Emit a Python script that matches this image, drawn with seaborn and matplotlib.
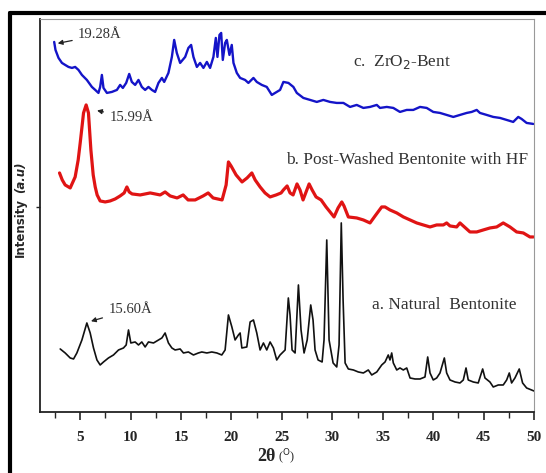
import matplotlib
matplotlib.use("Agg")
import matplotlib.pyplot as plt
import seaborn as sns
from matplotlib.lines import Line2D

# 2-theta (deg) and intensity (a.u.)
zro2_tt = [2.42, 2.55, 2.85, 3.19, 3.51, 3.84, 4.18, 4.5, 4.83, 5.17, 5.66, 6.16, 6.49, 6.81,
           6.98, 7.15, 7.31, 7.65, 8.14, 8.64, 8.96, 9.23, 9.56, 9.86, 10.12, 10.45, 10.78,
           11.11, 11.44, 11.77, 12.11, 12.43, 12.76, 13.1, 13.33, 13.75, 14.09, 14.32, 14.58,
           14.91, 15.41, 15.73, 16.0, 16.23, 16.57, 16.89, 17.22, 17.56, 17.88, 18.21, 18.45,
           18.61, 18.81, 18.98, 19.14, 19.37, 19.54, 19.8, 20.03, 20.2, 20.53, 20.86, 21.35,
           21.68, 22.18, 22.51, 23.01, 23.5, 24.0, 24.49, 24.82, 25.15, 25.65, 26.14,
           26.48, 27.13, 27.8, 28.46, 29.11, 29.78, 30.44, 31.1, 31.76, 32.42, 33.08, 33.74,
           34.41, 34.73, 35.4, 36.05, 36.71, 37.38, 38.03, 38.7, 39.36, 40.01, 40.68, 41.34,
           42.0, 42.66, 43.33, 43.82, 44.32, 44.64, 45.31, 45.96, 46.63, 47.29, 47.94, 48.44,
           48.77, 49.27, 49.93]
zro2_int = [370, 362, 354, 349, 347, 345, 344, 345, 342, 337, 332, 325, 322, 319,
            325, 337, 324, 319, 320, 322, 327, 324, 329, 338, 330, 327, 332,
            325, 322, 325, 322, 320, 329, 334, 330, 339, 355, 372, 359,
            349, 355, 364, 367, 355, 345, 349, 344, 350, 344, 355, 374,
            355, 377, 379, 352, 369, 372, 357, 367, 349, 339, 334, 332,
            329, 334, 330, 327, 325, 317, 320, 322, 330, 329, 325,
            319, 314, 312, 310, 312, 310, 309, 309, 305, 307, 304, 305,
            307, 304, 305, 304, 300, 302, 302, 305, 304, 300, 299, 297,
            295, 297, 299, 300, 302, 299, 297, 295, 294, 292, 290, 295,
            293, 289, 288]

hf_tt = [2.95, 3.22, 3.51, 4.01, 4.5, 4.8, 5.0, 5.2, 5.33, 5.59, 5.82, 6.06, 6.29, 6.49, 6.68,
         6.98, 7.48, 7.97, 8.47, 8.96, 9.36, 9.63, 9.86, 10.15, 10.95, 11.94, 12.93, 13.42,
         13.92, 14.61, 15.21, 15.7, 16.4, 17.19, 17.69, 18.18, 19.07, 19.47, 19.7, 19.96,
         20.46, 21.05, 21.55, 22.02, 22.35, 22.84, 23.33, 23.83, 24.43, 24.92, 25.15, 25.52,
         25.81, 26.11, 26.5, 26.8, 27.1, 27.4, 27.7, 28.0, 28.39, 28.89, 29.38, 29.78, 30.17,
         30.57, 30.94, 31.16, 31.59, 32.42, 33.08, 33.74, 34.24, 34.9, 35.23, 35.72, 36.39,
         37.05, 37.71, 38.37, 39.02, 39.69, 40.35, 41.01, 41.34, 41.67, 42.33, 42.66, 42.99,
         43.65, 44.32, 44.97, 45.64, 46.3, 46.95, 47.62, 48.28, 48.94, 49.6, 49.93]
hf_int = [239, 232, 227, 224, 235, 252, 269, 287, 299, 307, 299, 262, 237, 225, 217,
          211, 210, 211, 213, 216, 219, 225, 220, 218, 217, 219, 217, 220,
          216, 214, 217, 212, 212, 216, 219, 214, 212, 227, 250, 246,
          237, 230, 234, 239, 232, 225, 219, 215, 217, 219, 222, 226,
          219, 217, 228, 222, 212, 220, 228, 222, 215, 212, 205, 200, 195,
          204, 210, 206, 195, 194, 192, 189, 196, 205, 205, 202, 199,
          195, 192, 189, 187, 185, 187, 187, 189, 186, 185, 189, 186,
          180, 180, 182, 184, 185, 189, 185, 180, 179, 175, 175]

nat_tt = [3.02, 3.51, 4.01, 4.34, 4.67, 5.17, 5.66, 5.99, 6.32, 6.66, 6.98, 7.31, 7.8, 8.3,
          8.8, 9.29, 9.56, 9.79, 10.02, 10.45, 10.78, 11.11, 11.44, 11.77, 12.27, 12.76, 13.1,
          13.42, 13.75, 14.09, 14.41, 14.91, 15.24, 15.73, 16.23, 16.72, 17.06, 17.56, 18.05,
          18.55, 19.04, 19.37, 19.7, 20.04, 20.36, 20.69, 20.86, 21.03, 21.52, 21.85, 22.18,
          22.51, 22.84, 23.17, 23.5, 23.83, 24.16, 24.49, 24.82, 25.32, 25.64, 25.81, 26.01,
          26.31, 26.64, 26.9, 27.2, 27.51, 27.86, 28.09, 28.29, 28.59, 28.99, 29.18, 29.45,
          29.68, 30.08, 30.44, 30.67, 30.89, 31.07, 31.27, 31.59, 32.09, 32.58, 33.08, 33.57,
          33.91, 34.41, 34.9, 35.23, 35.55, 35.72, 35.89, 36.05, 36.39, 36.71, 37.04, 37.38,
          37.71, 38.2, 38.7, 39.19, 39.46, 39.69, 40.01, 40.35, 40.68, 41.11, 41.34, 41.67,
          42.17, 42.66, 42.99, 43.26, 43.48, 43.98, 44.47, 44.91, 45.14, 45.63, 45.96, 46.46,
          46.95, 47.29, 47.55, 47.78, 48.11, 48.54, 48.87, 49.27, 49.76, 50.0]
nat_int = [63, 59, 54, 53, 59, 72, 89, 79, 64, 52, 47, 50, 54, 57,
           62, 64, 67, 82, 69, 70, 67, 70, 65, 70, 69, 72, 74,
           79, 69, 64, 62, 63, 59, 60, 57, 59, 60, 59, 60,
           59, 57, 62, 97, 85, 72, 77, 79, 64, 65, 90, 92,
           79, 62, 69, 62, 70, 64, 52, 57, 62, 114, 97, 62,
           59, 127, 82, 59, 72, 107, 92, 62, 52, 50, 72, 172,
           72, 49, 45, 67, 189, 112, 49, 43, 42, 40, 39, 42,
           37, 40, 47, 50, 57, 52, 59, 49, 42, 44, 42, 44,
           34, 33, 33, 35, 55, 39, 32, 34, 39, 54, 39, 32,
           30, 29, 32, 44, 32, 30, 29, 43, 34, 30, 25, 27,
           27, 32, 39, 29, 34, 43, 29, 24, 22, 21]

x_ticks = [5, 10, 15, 20, 25, 30, 35, 40, 45, 50]

sns.set_style("ticks")
fig = plt.figure(figsize=(5.46, 4.73), dpi=100)
ax = fig.add_axes([0.073, 0.129, 0.905, 0.831])

serif = "Liberation Serif"
sns.lineplot(x=zro2_tt, y=zro2_int, ax=ax, color="#1414c8", lw=1.7, sort=False, estimator=None)
sns.lineplot(x=hf_tt, y=hf_int, ax=ax, color="#e01414", lw=2.3, sort=False, estimator=None)
sns.lineplot(x=nat_tt, y=nat_int, ax=ax, color="#111111", lw=1.2, sort=False, estimator=None)

ax.set_xlim(1, 50)
ax.set_ylim(0, 393)
ax.set_xticks(x_ticks)
ax.set_xticks([2.5 + 5 * i for i in range(10)], minor=True)
ax.set_xticklabels([str(t) for t in x_ticks], fontfamily=serif, fontweight="bold", fontsize=11)
ax.set_yticks([205])
ax.set_yticklabels([])
ax.tick_params(axis="x", which="major", length=6, width=1.2, direction="out", pad=8)
ax.tick_params(axis="x", which="minor", length=4, width=1.0, direction="out")
ax.tick_params(axis="y", length=3, width=1.0, direction="out")
for s in ["left", "bottom"]:
    ax.spines[s].set_linewidth(1.3)
    ax.spines[s].set_color("#222222")
for s in ["top", "right"]:
    ax.spines[s].set_visible(True)
    ax.spines[s].set_linewidth(0.8)
    ax.spines[s].set_color("#999999")

# peak annotations
arrow = dict(arrowstyle="-|>", color="#222222", lw=0.9, mutation_scale=7)
ax.annotate("19.28Å", xy=(2.5, 368), xytext=(4.8, 377), fontfamily=serif, fontsize=10.5,
            color="#333333", va="center", arrowprops=arrow)
ax.annotate("15.99Å", xy=(6.4, 302), xytext=(7.9, 294), fontfamily=serif, fontsize=10.5,
            color="#333333", va="center", arrowprops=arrow)
ax.annotate("15.60Å", xy=(5.8, 90), xytext=(7.8, 102), fontfamily=serif, fontsize=10.5,
            color="#333333", va="center", arrowprops=arrow)

# series labels
ax.text(32.1, 350, "c.  ZrO$_2$-Bent", fontfamily=serif, fontsize=12.4, color="#333333",
        va="center")
ax.text(25.4, 252, "b. Post-Washed Bentonite with HF", fontfamily=serif, fontsize=12.5,
        color="#333333", va="center")
ax.text(33.9, 107, "a. Natural  Bentonite", fontfamily=serif, fontsize=12.4, color="#333333",
        va="center")

# axis titles
fig.text(0.505, 0.035, "2θ", fontfamily=serif, fontweight="bold", fontsize=13, ha="right",
         va="center")
fig.text(0.51, 0.033, "($^{\\mathrm{O}}$)", fontfamily=serif, fontsize=9, ha="left", va="center")
fig.text(0.037, 0.518, "Intensity", family="DejaVu Sans", fontweight="bold", fontsize=8.5,
         rotation=90, ha="center", va="center")
fig.text(0.037, 0.625, "(a.u)", family="DejaVu Sans", fontweight="bold", style="italic",
         fontsize=8.5, rotation=90, ha="center", va="center")

# outer black frame (left and top only)
fy = 1 - 13.5 / 473
fx = 10 / 546
fig.add_artist(Line2D([fx, fx], [0, fy], color="black", lw=3.0, transform=fig.transFigure))
fig.add_artist(Line2D([fx, 1], [fy, fy], color="black", lw=3.0, transform=fig.transFigure))

fig.savefig("out.png", dpi=100)
